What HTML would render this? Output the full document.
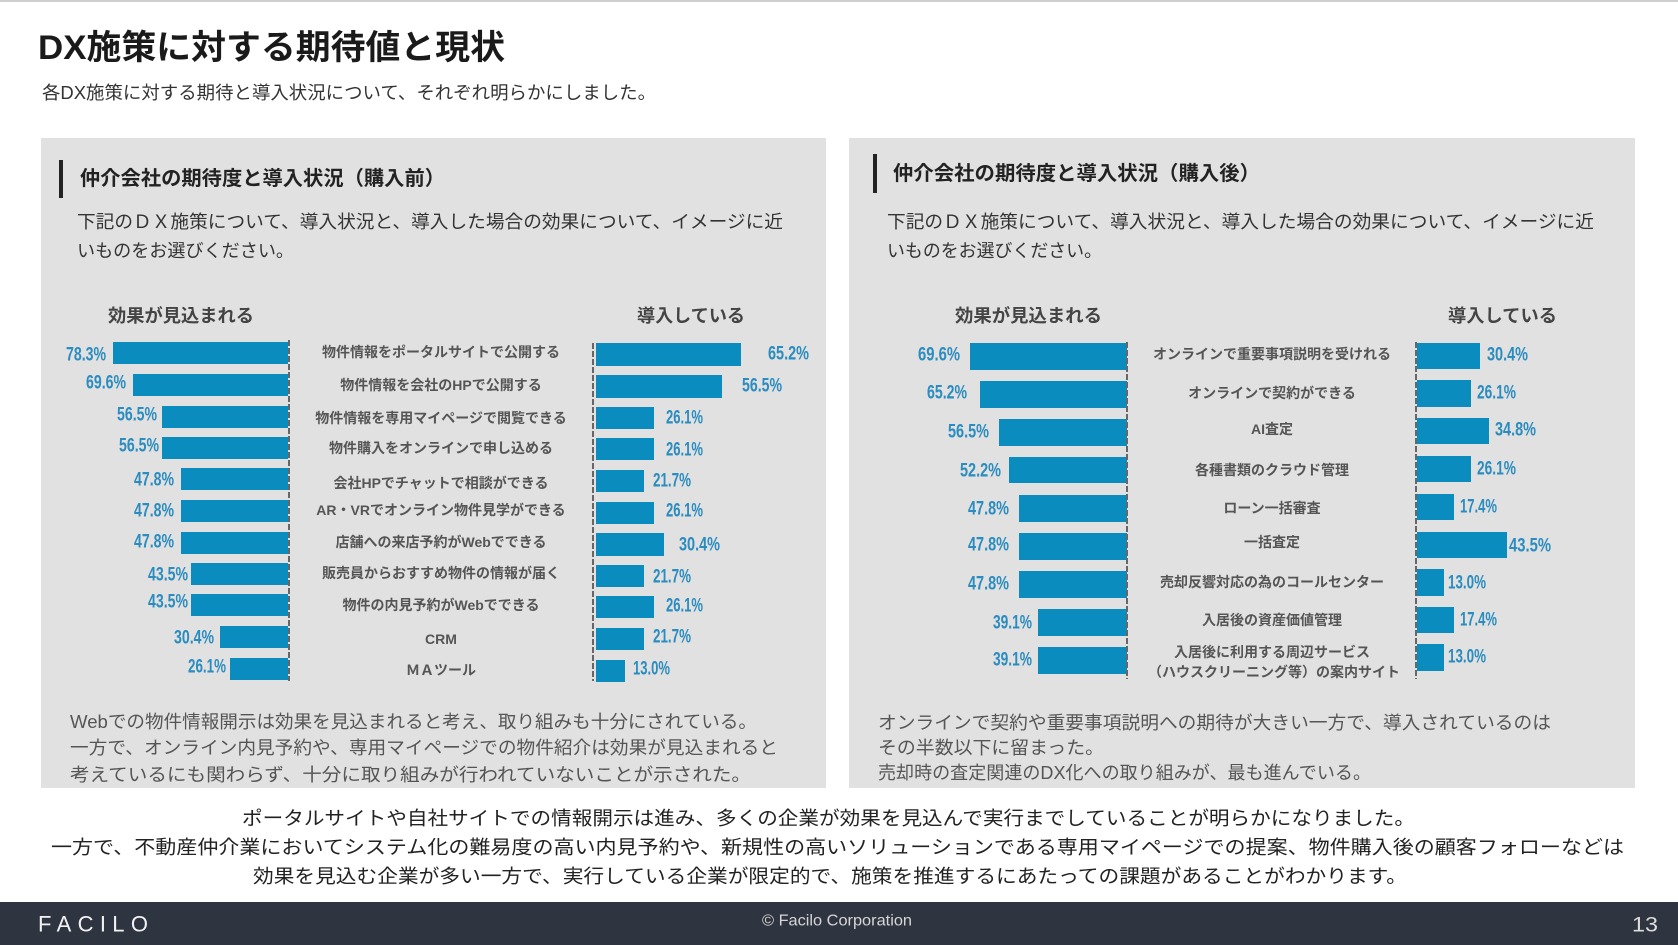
<!DOCTYPE html>
<html lang="ja">
<head>
<meta charset="utf-8">
<style>
html,body{margin:0;padding:0;background:#fff;}
svg{display:block;}
text{font-family:"Liberation Sans","Noto Sans CJK JP",sans-serif;}
.pct{font-family:"Liberation Sans",sans-serif;font-weight:bold;fill:#2a8cbf;font-size:19px;}
.lab{font-size:14px;font-weight:bold;fill:#555;}
.hdr{font-size:18px;font-weight:bold;fill:#444;}
.desc{font-size:18px;fill:#333;}
.note{font-size:18px;fill:#555;}
.sum{font-size:19px;fill:#222;}
.bar{fill:#0a8cbe;}
.axis{stroke:#666;stroke-width:2;stroke-dasharray:6 2;}
</style>
</head>
<body>
<svg width="1678" height="945" viewBox="0 0 1678 945" xmlns="http://www.w3.org/2000/svg" dominant-baseline="central">
<rect x="0" y="0" width="1678" height="945" fill="#ffffff"/>
<rect x="0" y="0" width="1678" height="2" fill="#cfcfcf"/>

<!-- Title -->
<text x="38" y="48" font-size="34" font-weight="bold" fill="#1a1a1a" textLength="467" lengthAdjust="spacingAndGlyphs">DX施策に対する期待値と現状</text>
<text x="42" y="93" font-size="18" fill="#333" textLength="614" lengthAdjust="spacingAndGlyphs">各DX施策に対する期待と導入状況について、それぞれ明らかにしました。</text>

<!-- Panels -->
<rect x="41" y="138" width="785" height="650" fill="#e1e1e1"/>
<rect x="849" y="138" width="786" height="650" fill="#e1e1e1"/>

<!-- Left panel header -->
<rect x="59" y="160" width="4" height="38" fill="#222"/>
<text x="80" y="179" font-size="20" font-weight="bold" fill="#222" textLength="365" lengthAdjust="spacingAndGlyphs">仲介会社の期待度と導入状況（購入前）</text>
<text class="desc" x="77" y="222" textLength="706" lengthAdjust="spacingAndGlyphs">下記のＤＸ施策について、導入状況と、導入した場合の効果について、イメージに近</text>
<text class="desc" x="77" y="251" textLength="217" lengthAdjust="spacingAndGlyphs">いものをお選びください。</text>

<text class="hdr" x="108" y="316" textLength="146" lengthAdjust="spacingAndGlyphs">効果が見込まれる</text>
<text class="hdr" x="637" y="316" textLength="108" lengthAdjust="spacingAndGlyphs">導入している</text>

<!-- Left chart: left bars (right edge 288) -->
<g>
<rect class="bar" x="113" y="342" width="175" height="22"/>
<rect class="bar" x="133" y="374" width="155" height="22"/>
<rect class="bar" x="162" y="406" width="126" height="22"/>
<rect class="bar" x="162" y="437" width="126" height="22"/>
<rect class="bar" x="181" y="468" width="107" height="22"/>
<rect class="bar" x="181" y="500" width="107" height="22"/>
<rect class="bar" x="181" y="532" width="107" height="22"/>
<rect class="bar" x="191" y="563" width="97" height="22"/>
<rect class="bar" x="191" y="594" width="97" height="22"/>
<rect class="bar" x="220" y="626" width="68" height="22"/>
<rect class="bar" x="230" y="658" width="58" height="22"/>
</g>
<line class="axis" x1="289" y1="340" x2="289" y2="681"/>
<g>
<text class="pct" x="66" y="355" textLength="40" lengthAdjust="spacingAndGlyphs">78.3%</text>
<text class="pct" x="86" y="383" textLength="40" lengthAdjust="spacingAndGlyphs">69.6%</text>
<text class="pct" x="117" y="415" textLength="40" lengthAdjust="spacingAndGlyphs">56.5%</text>
<text class="pct" x="119" y="446" textLength="40" lengthAdjust="spacingAndGlyphs">56.5%</text>
<text class="pct" x="134" y="480" textLength="40" lengthAdjust="spacingAndGlyphs">47.8%</text>
<text class="pct" x="134" y="511" textLength="40" lengthAdjust="spacingAndGlyphs">47.8%</text>
<text class="pct" x="134" y="542" textLength="40" lengthAdjust="spacingAndGlyphs">47.8%</text>
<text class="pct" x="148" y="575" textLength="40" lengthAdjust="spacingAndGlyphs">43.5%</text>
<text class="pct" x="148" y="602" textLength="40" lengthAdjust="spacingAndGlyphs">43.5%</text>
<text class="pct" x="174" y="638" textLength="40" lengthAdjust="spacingAndGlyphs">30.4%</text>
<text class="pct" x="188" y="667" textLength="38" lengthAdjust="spacingAndGlyphs">26.1%</text>
</g>

<!-- Left chart: middle labels -->
<g text-anchor="middle">
<text class="lab" x="441" y="352">物件情報をポータルサイトで公開する</text>
<text class="lab" x="441" y="385">物件情報を会社のHPで公開する</text>
<text class="lab" x="441" y="418">物件情報を専用マイページで閲覧できる</text>
<text class="lab" x="441" y="448">物件購入をオンラインで申し込める</text>
<text class="lab" x="441" y="483">会社HPでチャットで相談ができる</text>
<text class="lab" x="441" y="510">AR・VRでオンライン物件見学ができる</text>
<text class="lab" x="441" y="542">店舗への来店予約がWebでできる</text>
<text class="lab" x="441" y="573">販売員からおすすめ物件の情報が届く</text>
<text class="lab" x="441" y="605">物件の内見予約がWebでできる</text>
<text class="lab" x="441" y="639">CRM</text>
<text class="lab" x="441" y="670">ＭＡツール</text>
</g>

<!-- Left chart: right bars (start 596) -->
<line class="axis" x1="593" y1="343" x2="593" y2="681"/>
<g>
<rect class="bar" x="596" y="343" width="145" height="23"/>
<rect class="bar" x="596" y="375" width="126" height="23"/>
<rect class="bar" x="596" y="407" width="58" height="22"/>
<rect class="bar" x="596" y="438" width="58" height="22"/>
<rect class="bar" x="596" y="470" width="48" height="22"/>
<rect class="bar" x="596" y="502" width="58" height="22"/>
<rect class="bar" x="596" y="533" width="68" height="23"/>
<rect class="bar" x="596" y="565" width="48" height="22"/>
<rect class="bar" x="596" y="596" width="58" height="22"/>
<rect class="bar" x="596" y="628" width="48" height="22"/>
<rect class="bar" x="596" y="660" width="29" height="22"/>
</g>
<g>
<text class="pct" x="768" y="354" textLength="41" lengthAdjust="spacingAndGlyphs">65.2%</text>
<text class="pct" x="742" y="386" textLength="40" lengthAdjust="spacingAndGlyphs">56.5%</text>
<text class="pct" x="666" y="418" textLength="37" lengthAdjust="spacingAndGlyphs">26.1%</text>
<text class="pct" x="666" y="450" textLength="37" lengthAdjust="spacingAndGlyphs">26.1%</text>
<text class="pct" x="653" y="481" textLength="38" lengthAdjust="spacingAndGlyphs">21.7%</text>
<text class="pct" x="666" y="511" textLength="37" lengthAdjust="spacingAndGlyphs">26.1%</text>
<text class="pct" x="679" y="545" textLength="41" lengthAdjust="spacingAndGlyphs">30.4%</text>
<text class="pct" x="653" y="577" textLength="38" lengthAdjust="spacingAndGlyphs">21.7%</text>
<text class="pct" x="666" y="606" textLength="37" lengthAdjust="spacingAndGlyphs">26.1%</text>
<text class="pct" x="653" y="637" textLength="38" lengthAdjust="spacingAndGlyphs">21.7%</text>
<text class="pct" x="633" y="669" textLength="37" lengthAdjust="spacingAndGlyphs">13.0%</text>
</g>

<!-- Left panel notes -->
<text class="note" x="70" y="722" textLength="687" lengthAdjust="spacingAndGlyphs">Webでの物件情報開示は効果を見込まれると考え、取り組みも十分にされている。</text>
<text class="note" x="70" y="748" textLength="708" lengthAdjust="spacingAndGlyphs">一方で、オンライン内見予約や、専用マイページでの物件紹介は効果が見込まれると</text>
<text class="note" x="70" y="775" textLength="681" lengthAdjust="spacingAndGlyphs">考えているにも関わらず、十分に取り組みが行われていないことが示された。</text>

<!-- Right panel header -->
<rect x="873" y="154" width="4" height="39" fill="#222"/>
<text x="893" y="174" font-size="20" font-weight="bold" fill="#222" textLength="367" lengthAdjust="spacingAndGlyphs">仲介会社の期待度と導入状況（購入後）</text>
<text class="desc" x="887" y="222" textLength="707" lengthAdjust="spacingAndGlyphs">下記のＤＸ施策について、導入状況と、導入した場合の効果について、イメージに近</text>
<text class="desc" x="887" y="251" textLength="215" lengthAdjust="spacingAndGlyphs">いものをお選びください。</text>

<text class="hdr" x="955" y="316" textLength="147" lengthAdjust="spacingAndGlyphs">効果が見込まれる</text>
<text class="hdr" x="1448" y="316" textLength="109" lengthAdjust="spacingAndGlyphs">導入している</text>

<!-- Right chart: left bars (right edge 1127) -->
<g>
<rect class="bar" x="970" y="343" width="157" height="27"/>
<rect class="bar" x="980" y="381" width="147" height="27"/>
<rect class="bar" x="999" y="419" width="128" height="27"/>
<rect class="bar" x="1009" y="457" width="118" height="26"/>
<rect class="bar" x="1019" y="495" width="108" height="27"/>
<rect class="bar" x="1019" y="533" width="108" height="27"/>
<rect class="bar" x="1019" y="571" width="108" height="27"/>
<rect class="bar" x="1038" y="609" width="89" height="27"/>
<rect class="bar" x="1038" y="647" width="89" height="27"/>
</g>
<line class="axis" x1="1127" y1="342" x2="1127" y2="679"/>
<g>
<text class="pct" x="918" y="355" textLength="42" lengthAdjust="spacingAndGlyphs">69.6%</text>
<text class="pct" x="927" y="393" textLength="40" lengthAdjust="spacingAndGlyphs">65.2%</text>
<text class="pct" x="948" y="432" textLength="41" lengthAdjust="spacingAndGlyphs">56.5%</text>
<text class="pct" x="960" y="471" textLength="41" lengthAdjust="spacingAndGlyphs">52.2%</text>
<text class="pct" x="968" y="509" textLength="41" lengthAdjust="spacingAndGlyphs">47.8%</text>
<text class="pct" x="968" y="545" textLength="41" lengthAdjust="spacingAndGlyphs">47.8%</text>
<text class="pct" x="968" y="584" textLength="41" lengthAdjust="spacingAndGlyphs">47.8%</text>
<text class="pct" x="993" y="623" textLength="39" lengthAdjust="spacingAndGlyphs">39.1%</text>
<text class="pct" x="993" y="660" textLength="39" lengthAdjust="spacingAndGlyphs">39.1%</text>
</g>

<!-- Right chart: middle labels -->
<g text-anchor="middle">
<text class="lab" x="1272" y="354">オンラインで重要事項説明を受けれる</text>
<text class="lab" x="1272" y="393">オンラインで契約ができる</text>
<text class="lab" x="1272" y="429">AI査定</text>
<text class="lab" x="1272" y="470">各種書類のクラウド管理</text>
<text class="lab" x="1272" y="508">ローン一括審査</text>
<text class="lab" x="1272" y="542">一括査定</text>
<text class="lab" x="1272" y="582">売却反響対応の為のコールセンター</text>
<text class="lab" x="1272" y="620">入居後の資産価値管理</text>
<text class="lab" x="1272" y="652">入居後に利用する周辺サービス</text>
<text class="lab" x="1274" y="672">（ハウスクリーニング等）の案内サイト</text>
</g>

<!-- Right chart: right bars (start 1417) -->
<line class="axis" x1="1416" y1="342" x2="1416" y2="679"/>
<g>
<rect class="bar" x="1417" y="343" width="63" height="26"/>
<rect class="bar" x="1417" y="380" width="54" height="27"/>
<rect class="bar" x="1417" y="418" width="72" height="26"/>
<rect class="bar" x="1417" y="456" width="54" height="26"/>
<rect class="bar" x="1417" y="494" width="37" height="26"/>
<rect class="bar" x="1417" y="532" width="90" height="26"/>
<rect class="bar" x="1417" y="569" width="27" height="27"/>
<rect class="bar" x="1417" y="607" width="37" height="26"/>
<rect class="bar" x="1417" y="644" width="27" height="27"/>
</g>
<g>
<text class="pct" x="1487" y="355" textLength="41" lengthAdjust="spacingAndGlyphs">30.4%</text>
<text class="pct" x="1477" y="393" textLength="39" lengthAdjust="spacingAndGlyphs">26.1%</text>
<text class="pct" x="1495" y="430" textLength="41" lengthAdjust="spacingAndGlyphs">34.8%</text>
<text class="pct" x="1477" y="469" textLength="39" lengthAdjust="spacingAndGlyphs">26.1%</text>
<text class="pct" x="1460" y="507" textLength="37" lengthAdjust="spacingAndGlyphs">17.4%</text>
<text class="pct" x="1509" y="546" textLength="42" lengthAdjust="spacingAndGlyphs">43.5%</text>
<text class="pct" x="1448" y="583" textLength="38" lengthAdjust="spacingAndGlyphs">13.0%</text>
<text class="pct" x="1460" y="620" textLength="37" lengthAdjust="spacingAndGlyphs">17.4%</text>
<text class="pct" x="1448" y="657" textLength="38" lengthAdjust="spacingAndGlyphs">13.0%</text>
</g>

<!-- Right panel notes -->
<text class="note" x="878" y="723" textLength="673" lengthAdjust="spacingAndGlyphs">オンラインで契約や重要事項説明への期待が大きい一方で、導入されているのは</text>
<text class="note" x="878" y="748" textLength="226" lengthAdjust="spacingAndGlyphs">その半数以下に留まった。</text>
<text class="note" x="878" y="773" textLength="493" lengthAdjust="spacingAndGlyphs">売却時の査定関連のDX化への取り組みが、最も進んでいる。</text>

<!-- Summary -->
<text class="sum" x="242" y="819" textLength="1173" lengthAdjust="spacingAndGlyphs">ポータルサイトや自社サイトでの情報開示は進み、多くの企業が効果を見込んで実行までしていることが明らかになりました。</text>
<text class="sum" x="51" y="848" textLength="1573" lengthAdjust="spacingAndGlyphs">一方で、不動産仲介業においてシステム化の難易度の高い内見予約や、新規性の高いソリューションである専用マイページでの提案、物件購入後の顧客フォローなどは</text>
<text class="sum" x="253" y="877" textLength="1154" lengthAdjust="spacingAndGlyphs">効果を見込む企業が多い一方で、実行している企業が限定的で、施策を推進するにあたっての課題があることがわかります。</text>

<!-- Footer -->
<rect x="0" y="902" width="1678" height="43" fill="#2e3440"/>
<text x="38" y="924" font-size="22" fill="#f2f2f2" textLength="110" lengthAdjust="spacing" font-family="Liberation Sans, sans-serif">FACILO</text>
<text x="762" y="921" font-size="16" fill="#d6d6d6" textLength="150" lengthAdjust="spacingAndGlyphs">© Facilo Corporation</text>
<text x="1632" y="925" font-size="21" fill="#dddddd" textLength="26" lengthAdjust="spacingAndGlyphs">13</text>
</svg>
</body>
</html>
